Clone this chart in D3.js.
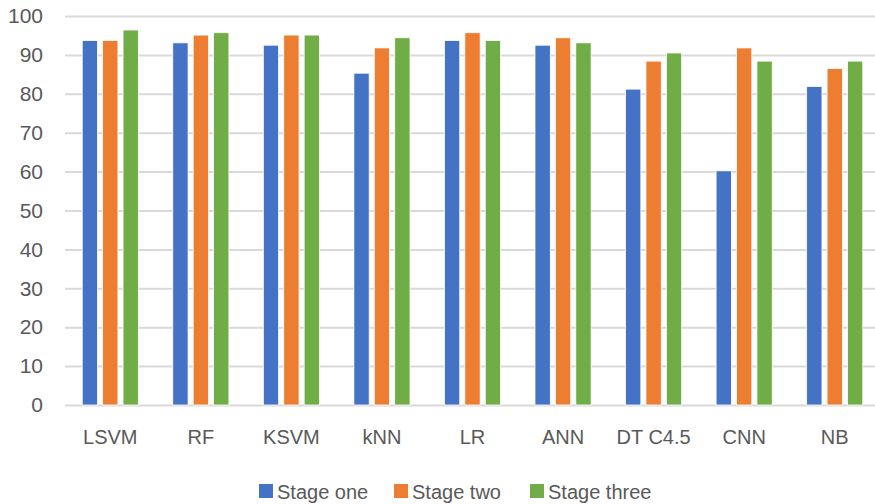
<!DOCTYPE html>
<html>
<head>
<meta charset="utf-8">
<script src="https://cdn.jsdelivr.net/npm/d3@7"></script>
<style>
  html, body { margin: 0; padding: 0; background: #fff; }
  svg { display: block; font-family: "Liberation Sans", "DejaVu Sans", sans-serif; }
</style>
</head>
<body>
<svg id="chart" width="875" height="504"></svg>
<script>
const categories = ["LSVM", "RF", "KSVM", "kNN", "LR", "ANN", "DT C4.5", "CNN", "NB"];
const seriesNames = ["Stage one", "Stage two", "Stage three"];
const stageOne = [93.7, 93.1, 92.5, 85.3, 93.7, 92.5, 81.2, 60.2, 81.9];
const stageTwo = [93.7, 95.1, 95.1, 91.8, 95.7, 94.4, 88.4, 91.8, 86.5];
const stageThree = [96.4, 95.7, 95.1, 94.4, 93.7, 93.1, 90.5, 88.4, 88.4];
const yTicks = [0, 10, 20, 30, 40, 50, 60, 70, 80, 90, 100];

const colors = { "Stage one": "#4472C4", "Stage two": "#ED7D31", "Stage three": "#70AD47" };
const seriesValues = { "Stage one": stageOne, "Stage two": stageTwo, "Stage three": stageThree };

const svg = d3.select("#chart");
const width = 875, height = 504;
const margin = { top: 16, left: 65, right: -5, bottom: 99 };
const innerW = width - margin.left - margin.right;
const innerH = height - margin.top - margin.bottom;

const g = svg.append("g").attr("transform", `translate(${margin.left},${margin.top})`);

const x0 = d3.scaleBand()
    .domain(categories)
    .range([0, innerW])
    .paddingInner(0.38)
    .paddingOuter(0.19);

const x1 = d3.scaleBand()
    .domain(seriesNames)
    .range([0, x0.bandwidth()])
    .paddingInner(0.25);

const y = d3.scaleLinear().domain([0, 100]).range([innerH, 0]);

// gridlines + y labels
const yAxis = g.append("g")
    .call(d3.axisLeft(y).tickValues(yTicks).tickSize(-innerW).tickPadding(22));
yAxis.select(".domain").remove();
yAxis.selectAll(".tick line").attr("stroke", "#d9d9d9").attr("stroke-width", 2);
yAxis.selectAll(".tick text")
    .attr("fill", "#595959")
    .style("font-size", "21px");

// bars
const groups = g.selectAll("g.cat")
    .data(categories)
    .join("g")
    .attr("class", "cat")
    .attr("transform", d => `translate(${x0(d)},0)`);

groups.selectAll("rect")
    .data((d, i) => seriesNames.map(s => ({ s, v: seriesValues[s][i] })))
    .join("rect")
    .attr("x", d => x1(d.s))
    .attr("y", d => y(d.v))
    .attr("width", x1.bandwidth())
    .attr("height", d => innerH - y(d.v))
    .attr("fill", d => colors[d.s])
    .attr("stroke", "#fff")
    .attr("stroke-width", 0.8);

// x labels
const xAxis = g.append("g")
    .attr("transform", `translate(0,${innerH})`)
    .call(d3.axisBottom(x0).tickSize(0).tickPadding(25));
xAxis.select(".domain").remove();
xAxis.selectAll(".tick text")
    .attr("fill", "#595959")
    .style("font-size", "20px");

// legend
const legendX = [259, 394, 530];
const legend = svg.append("g").attr("transform", "translate(0,484)");
const items = legend.selectAll("g.item")
    .data(seriesNames)
    .join("g")
    .attr("class", "item")
    .attr("transform", (d, i) => `translate(${legendX[i]},0)`);
items.append("rect")
    .attr("width", 14)
    .attr("height", 14)
    .attr("fill", d => colors[d]);
items.append("text")
    .attr("x", 18)
    .attr("y", 15)
    .attr("fill", "#595959")
    .style("font-size", "20px")
    .text(d => d);
</script>
</body>
</html>
